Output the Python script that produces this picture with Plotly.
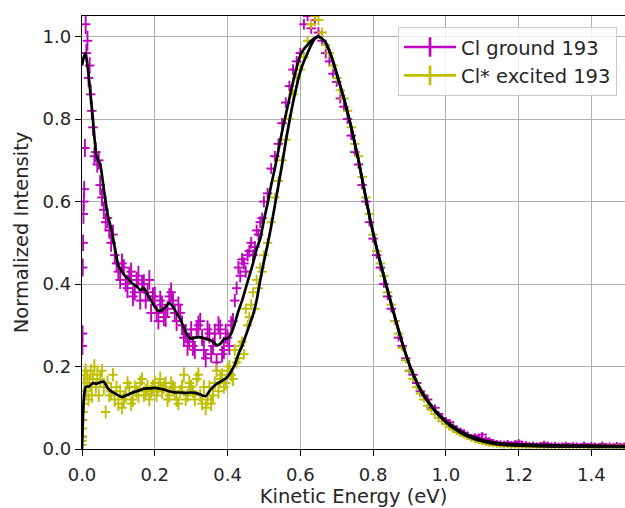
import plotly.graph_objects as go

# ---------------- data ----------------
energy = [0.0, 0.0005, 0.001, 0.0015, 0.002, 0.003, 0.004, 0.005, 0.006, 0.008,
          0.010, 0.012, 0.015, 0.018, 0.021, 0.024, 0.027, 0.030, 0.034, 0.038,
          0.042, 0.046, 0.050, 0.055, 0.060, 0.065, 0.070, 0.075, 0.080, 0.085,
          0.090, 0.095,
          0.10, 0.11, 0.12, 0.13, 0.14, 0.15, 0.16, 0.17, 0.18, 0.19,
          0.20, 0.21, 0.22, 0.23, 0.24, 0.25, 0.26, 0.27, 0.28, 0.29,
          0.30, 0.31, 0.32, 0.33, 0.34, 0.35, 0.36, 0.37, 0.38, 0.39,
          0.40, 0.41, 0.42, 0.43, 0.44, 0.45, 0.46, 0.47, 0.48, 0.49,
          0.50, 0.51, 0.52, 0.53, 0.54, 0.55, 0.56, 0.57, 0.58, 0.59,
          0.60, 0.61, 0.62, 0.63, 0.64, 0.65, 0.66, 0.67, 0.68, 0.69,
          0.70, 0.71, 0.72, 0.73, 0.74, 0.75, 0.76, 0.77, 0.78, 0.79,
          0.80, 0.81, 0.82, 0.83, 0.84, 0.85, 0.86, 0.87, 0.88, 0.89,
          0.90, 0.91, 0.92, 0.93, 0.94, 0.95, 0.96, 0.97, 0.98, 0.99,
          1.00, 1.01, 1.02, 1.03, 1.04, 1.05, 1.06, 1.07, 1.08, 1.09,
          1.10, 1.11, 1.12, 1.13, 1.14, 1.15, 1.16, 1.17, 1.18, 1.19,
          1.20, 1.21, 1.22, 1.23, 1.24, 1.25, 1.26, 1.27, 1.28, 1.29,
          1.30, 1.31, 1.32, 1.33, 1.34, 1.35, 1.36, 1.37, 1.38, 1.39,
          1.40, 1.41, 1.42, 1.43, 1.44, 1.45, 1.46, 1.47, 1.48, 1.49,
          1.50,
          0.105, 0.115, 0.125, 0.135, 0.145, 0.155, 0.165, 0.175, 0.185, 0.195,
          0.205, 0.215, 0.225, 0.235, 0.245, 0.255, 0.265, 0.275, 0.285, 0.295,
          0.305, 0.315, 0.325, 0.335, 0.345, 0.355, 0.365, 0.375, 0.385, 0.395,
          0.405, 0.415, 0.425, 0.435, 0.445, 0.455, 0.465, 0.475, 0.485, 0.495]

ground = [0.03, 0.07, 0.25, 0.28, 0.44, 0.50, 0.57, 0.60, 0.63, 0.73,
          1.03, 0.96, 0.99, 0.90, 0.93, 0.86, 0.82, 0.78, 0.71, 0.72,
          0.69, 0.70, 0.64, 0.61, 0.58, 0.55, 0.56, 0.53, 0.50, 0.52,
          0.47, 0.45,
          0.43, 0.45, 0.40, 0.42, 0.37, 0.41, 0.36, 0.40, 0.38, 0.33,
          0.37, 0.31, 0.35, 0.32, 0.37, 0.36, 0.31, 0.33, 0.27, 0.25,
          0.29, 0.24, 0.30, 0.27, 0.22, 0.28, 0.25, 0.21, 0.29, 0.24,
          0.27, 0.30, 0.36, 0.44, 0.46, 0.43, 0.48, 0.47, 0.53, 0.55,
          0.60, 0.62, 0.68, 0.71, 0.74, 0.79, 0.84, 0.88, 0.92, 0.94,
          0.96, 1.03, 1.05, 1.02, 1.04, 1.01, 0.99, 0.96, 0.94, 0.91,
          0.89, 0.85, 0.83, 0.80, 0.76, 0.72, 0.69, 0.64, 0.60, 0.55,
          0.51, 0.47, 0.44, 0.40, 0.37, 0.34, 0.31, 0.27, 0.25, 0.22,
          0.19, 0.18, 0.16, 0.14, 0.13, 0.12, 0.10, 0.10, 0.085, 0.075,
          0.070, 0.065, 0.055, 0.048, 0.045, 0.040, 0.034, 0.030, 0.032, 0.028,
          0.035, 0.025, 0.022, 0.018, 0.016, 0.015, 0.014, 0.016, 0.013, 0.015,
          0.018, 0.012, 0.013, 0.011, 0.012, 0.010, 0.011, 0.014, 0.012, 0.010,
          0.011, 0.009, 0.010, 0.012, 0.009, 0.011, 0.010, 0.008, 0.012, 0.009,
          0.011, 0.010, 0.008, 0.012, 0.009, 0.010, 0.008, 0.011, 0.009, 0.010,
          0.009,
          0.41, 0.44, 0.39, 0.43, 0.38, 0.42, 0.40, 0.36, 0.41, 0.37,
          0.33, 0.36, 0.32, 0.34, 0.38, 0.33, 0.35, 0.30, 0.28, 0.26,
          0.25, 0.29, 0.31, 0.24, 0.29, 0.23, 0.28, 0.30, 0.23, 0.28,
          0.25, 0.31, 0.39, 0.42, 0.45, 0.47, 0.50, 0.49, 0.52, 0.56]

ground_err = [0.020, 0.020, 0.022, 0.020, 0.022, 0.020, 0.024, 0.022, 0.020, 0.022,
              0.024, 0.022, 0.024, 0.022, 0.020, 0.024, 0.022, 0.020, 0.022, 0.024,
              0.020, 0.022, 0.024, 0.022, 0.020, 0.022, 0.024, 0.020, 0.022, 0.024,
              0.022, 0.020,
              0.022, 0.024, 0.020, 0.022, 0.024, 0.020, 0.022, 0.024, 0.020, 0.022,
              0.024, 0.020, 0.022, 0.024, 0.020, 0.022, 0.024, 0.020, 0.022, 0.024,
              0.020, 0.022, 0.024, 0.020, 0.022, 0.024, 0.020, 0.022, 0.024, 0.022,
              0.020, 0.022, 0.016, 0.016, 0.015, 0.015, 0.015, 0.014, 0.014, 0.014,
              0.014, 0.013, 0.013, 0.013, 0.013, 0.013, 0.013, 0.013, 0.013, 0.013,
              0.013, 0.013, 0.013, 0.013, 0.013, 0.013, 0.013, 0.013, 0.012, 0.012,
              0.012, 0.012, 0.012, 0.012, 0.011, 0.010, 0.010, 0.010, 0.010, 0.010,
              0.010, 0.009, 0.009, 0.009, 0.009, 0.009, 0.009, 0.009, 0.009, 0.008,
              0.008, 0.008, 0.008, 0.008, 0.008, 0.008, 0.008, 0.008, 0.007, 0.007,
              0.007, 0.007, 0.007, 0.007, 0.007, 0.007, 0.006, 0.006, 0.006, 0.006,
              0.006, 0.006, 0.006, 0.006, 0.006, 0.006, 0.006, 0.006, 0.006, 0.006,
              0.006, 0.006, 0.006, 0.006, 0.006, 0.006, 0.006, 0.006, 0.006, 0.006,
              0.006, 0.006, 0.006, 0.006, 0.006, 0.006, 0.006, 0.006, 0.006, 0.006,
              0.006, 0.006, 0.006, 0.006, 0.006, 0.006, 0.006, 0.006, 0.006, 0.006,
              0.006,
              0.022, 0.020, 0.024, 0.022, 0.020, 0.024, 0.022, 0.020, 0.024, 0.022,
              0.020, 0.024, 0.022, 0.020, 0.024, 0.022, 0.020, 0.024, 0.022, 0.020,
              0.024, 0.022, 0.020, 0.024, 0.022, 0.020, 0.024, 0.022, 0.020, 0.024,
              0.022, 0.020, 0.016, 0.016, 0.015, 0.015, 0.014, 0.014, 0.014, 0.013]

excited = [0.01, 0.02, 0.03, 0.05, 0.07, 0.09, 0.11, 0.13, 0.16, 0.18,
           0.19, 0.14, 0.17, 0.12, 0.16, 0.19, 0.13, 0.17, 0.20, 0.15,
           0.18, 0.13, 0.17, 0.19, 0.15, 0.09, 0.16, 0.13, 0.14, 0.18,
           0.12, 0.15,
           0.11, 0.10, 0.13, 0.15, 0.12, 0.14, 0.16, 0.13, 0.15, 0.14,
           0.16, 0.15, 0.14, 0.16, 0.13, 0.15, 0.12, 0.14, 0.18, 0.13,
           0.15, 0.12, 0.18, 0.11, 0.10, 0.15, 0.13, 0.19, 0.17, 0.15,
           0.19, 0.18, 0.24, 0.22, 0.26, 0.34, 0.32, 0.38, 0.41, 0.44,
           0.47, 0.50, 0.55, 0.61, 0.65, 0.70, 0.75, 0.80, 0.86, 0.90,
           0.92, 0.95, 0.99, 1.03, 1.05, 1.04, 1.01, 0.98, 0.96, 0.93,
           0.90, 0.87, 0.85, 0.82, 0.78, 0.74, 0.71, 0.66, 0.61, 0.57,
           0.52, 0.48, 0.45, 0.42, 0.38, 0.35, 0.31, 0.28, 0.245, 0.215,
           0.19, 0.17, 0.15, 0.135, 0.12, 0.105, 0.095, 0.085, 0.075, 0.067,
           0.060, 0.053, 0.047, 0.041, 0.036, 0.032, 0.028, 0.024, 0.021, 0.018,
           0.015, 0.013, 0.011, 0.010, 0.009, 0.008, 0.007, 0.008, 0.006, 0.007,
           0.006, 0.007, 0.006, 0.006, 0.007, 0.006, 0.005, 0.006, 0.006, 0.005,
           0.006, 0.005, 0.006, 0.005, 0.006, 0.005, 0.005, 0.006, 0.005, 0.005,
           0.006, 0.005, 0.005, 0.006, 0.005, 0.005, 0.005, 0.006, 0.005, 0.005,
           0.005,
           0.14, 0.12, 0.16, 0.11, 0.15, 0.13, 0.17, 0.14, 0.12, 0.15,
           0.13, 0.17, 0.15, 0.12, 0.16, 0.14, 0.11, 0.15, 0.12, 0.16,
           0.14, 0.17, 0.13, 0.15, 0.12, 0.11, 0.16, 0.14, 0.18, 0.16,
           0.20, 0.17, 0.21, 0.25, 0.23, 0.30, 0.35, 0.34, 0.39, 0.43]

excited_err = [0.010, 0.010, 0.012, 0.012, 0.014, 0.014, 0.016, 0.016, 0.018, 0.018,
               0.018, 0.016, 0.018, 0.016, 0.018, 0.016, 0.018, 0.016, 0.018, 0.016,
               0.018, 0.016, 0.018, 0.016, 0.018, 0.016, 0.018, 0.016, 0.018, 0.016,
               0.018, 0.016,
               0.018, 0.016, 0.018, 0.016, 0.018, 0.016, 0.018, 0.016, 0.018, 0.016,
               0.018, 0.016, 0.018, 0.016, 0.018, 0.016, 0.018, 0.016, 0.018, 0.016,
               0.018, 0.016, 0.018, 0.016, 0.018, 0.016, 0.018, 0.016, 0.018, 0.016,
               0.018, 0.016, 0.014, 0.014, 0.013, 0.013, 0.013, 0.012, 0.012, 0.012,
               0.012, 0.012, 0.012, 0.012, 0.012, 0.012, 0.012, 0.012, 0.012, 0.012,
               0.012, 0.012, 0.012, 0.012, 0.012, 0.012, 0.012, 0.012, 0.011, 0.011,
               0.011, 0.011, 0.011, 0.011, 0.010, 0.010, 0.010, 0.010, 0.010, 0.009,
               0.009, 0.009, 0.009, 0.009, 0.009, 0.009, 0.009, 0.008, 0.008, 0.008,
               0.008, 0.008, 0.008, 0.008, 0.008, 0.007, 0.007, 0.007, 0.007, 0.007,
               0.007, 0.007, 0.007, 0.007, 0.006, 0.006, 0.006, 0.006, 0.006, 0.006,
               0.006, 0.006, 0.006, 0.006, 0.006, 0.006, 0.006, 0.006, 0.006, 0.006,
               0.006, 0.006, 0.006, 0.006, 0.006, 0.006, 0.006, 0.006, 0.006, 0.006,
               0.006, 0.006, 0.006, 0.006, 0.006, 0.006, 0.006, 0.006, 0.006, 0.006,
               0.006, 0.006, 0.006, 0.006, 0.006, 0.006, 0.006, 0.006, 0.006, 0.006,
               0.006,
               0.016, 0.018, 0.016, 0.018, 0.016, 0.018, 0.016, 0.018, 0.016, 0.018,
               0.016, 0.018, 0.016, 0.018, 0.016, 0.018, 0.016, 0.018, 0.016, 0.018,
               0.016, 0.018, 0.016, 0.018, 0.016, 0.018, 0.016, 0.018, 0.016, 0.018,
               0.016, 0.018, 0.014, 0.014, 0.013, 0.013, 0.013, 0.012, 0.012, 0.012]

energy_err = 0.013

smooth_energy = [0.0, 0.002, 0.005, 0.01, 0.02, 0.03, 0.04, 0.05, 0.06, 0.07, 0.08, 0.09,
                 0.10, 0.11, 0.12, 0.13, 0.14, 0.15, 0.16, 0.17, 0.18, 0.19,
                 0.20, 0.21, 0.22, 0.23, 0.24, 0.25, 0.26, 0.27, 0.28, 0.29,
                 0.30, 0.31, 0.32, 0.33, 0.34, 0.35, 0.36, 0.37, 0.38, 0.39,
                 0.40, 0.41, 0.42, 0.43, 0.44, 0.45, 0.46, 0.47, 0.48, 0.49,
                 0.50, 0.51, 0.52, 0.53, 0.54, 0.55, 0.56, 0.57, 0.58, 0.59,
                 0.60, 0.61, 0.62, 0.63, 0.64, 0.65, 0.66, 0.67, 0.68, 0.69,
                 0.70, 0.71, 0.72, 0.73, 0.74, 0.75, 0.76, 0.77, 0.78, 0.79,
                 0.80, 0.81, 0.82, 0.83, 0.84, 0.85, 0.86, 0.87, 0.88, 0.89,
                 0.90, 0.91, 0.92, 0.93, 0.94, 0.95, 0.96, 0.97, 0.98, 0.99,
                 1.00, 1.02, 1.04, 1.06, 1.08, 1.10, 1.12, 1.14, 1.16, 1.18,
                 1.20, 1.25, 1.30, 1.35, 1.40, 1.45, 1.50]

ground_smooth = [0.93, 0.94, 0.95, 0.96, 0.89, 0.80, 0.71, 0.69, 0.63, 0.57, 0.535, 0.49,
                 0.445, 0.43, 0.418, 0.41, 0.40, 0.395, 0.385, 0.39, 0.375, 0.36,
                 0.345, 0.335, 0.337, 0.345, 0.354, 0.345, 0.33, 0.315, 0.295, 0.275,
                 0.267, 0.27, 0.272, 0.27, 0.267, 0.265, 0.26, 0.252, 0.255, 0.266,
                 0.268, 0.28, 0.305, 0.335, 0.36, 0.39, 0.42, 0.45, 0.485, 0.51,
                 0.555, 0.595, 0.64, 0.68, 0.725, 0.77, 0.81, 0.85, 0.89, 0.925,
                 0.955, 0.97, 0.98, 0.99, 0.997, 1.0, 0.995, 0.985, 0.965, 0.94,
                 0.91, 0.88, 0.85, 0.815, 0.78, 0.74, 0.70, 0.655, 0.61, 0.565,
                 0.525, 0.487, 0.452, 0.418, 0.385, 0.352, 0.32, 0.288, 0.258, 0.23,
                 0.205, 0.183, 0.163, 0.146, 0.131, 0.118, 0.106, 0.095, 0.085, 0.076,
                 0.068, 0.055, 0.043, 0.034, 0.028, 0.022, 0.018, 0.015, 0.013, 0.012,
                 0.011, 0.010, 0.009, 0.008, 0.008, 0.007, 0.007]

excited_smooth = [0.0, 0.06, 0.12, 0.15, 0.152, 0.16, 0.158, 0.162, 0.163, 0.148, 0.14, 0.135,
                  0.13, 0.126, 0.13, 0.133, 0.137, 0.14, 0.143, 0.146, 0.147, 0.147,
                  0.148, 0.147, 0.145, 0.143, 0.14, 0.138, 0.137, 0.137, 0.136, 0.136,
                  0.137, 0.136, 0.134, 0.13, 0.128, 0.14, 0.15, 0.158, 0.163, 0.168,
                  0.175, 0.188, 0.205, 0.23, 0.25, 0.275, 0.30, 0.325, 0.36, 0.41,
                  0.455, 0.495, 0.54, 0.59, 0.64, 0.69, 0.745, 0.795, 0.84, 0.88,
                  0.915, 0.94, 0.96, 0.98, 0.995, 1.0, 0.995, 0.985, 0.965, 0.94,
                  0.91, 0.88, 0.85, 0.815, 0.78, 0.74, 0.70, 0.655, 0.61, 0.565,
                  0.525, 0.487, 0.452, 0.418, 0.385, 0.352, 0.32, 0.288, 0.258, 0.23,
                  0.204, 0.181, 0.161, 0.143, 0.128, 0.115, 0.103, 0.092, 0.082, 0.073,
                  0.065, 0.051, 0.040, 0.031, 0.024, 0.019, 0.015, 0.012, 0.010, 0.009,
                  0.008, 0.007, 0.006, 0.006, 0.005, 0.005, 0.005]

series_names = ["Cl ground 193", "Cl* excited 193"]
series_colors = ["#bf00bf", "#bfbf00"]

x_ticks = [0.0, 0.2, 0.4, 0.6, 0.8, 1.0, 1.2, 1.4]
x_tick_labels = ["0.0", "0.2", "0.4", "0.6", "0.8", "1.0", "1.2", "1.4"]
y_ticks = [0.0, 0.2, 0.4, 0.6, 0.8, 1.0]
y_tick_labels = ["0.0", "0.2", "0.4", "0.6", "0.8", "1.0"]

# ---------------- figure ----------------
fig = go.Figure()

for vals, errs, name, col in [(ground, ground_err, series_names[0], series_colors[0]),
                              (excited, excited_err, series_names[1], series_colors[1])]:
    fig.add_trace(go.Scatter(
        x=energy, y=vals, mode="markers", showlegend=False,
        marker=dict(size=2, color=col),
        error_y=dict(type="data", array=errs, color=col, thickness=1.9, width=0),
        error_x=dict(type="constant", value=energy_err, color=col, thickness=1.9, width=0),
        hoverinfo="skip",
    ))

for sm in [ground_smooth, excited_smooth]:
    fig.add_trace(go.Scatter(
        x=smooth_energy, y=sm, mode="lines", showlegend=False,
        line=dict(color="black", width=2.7, shape="spline", smoothing=0.6),
    ))

for name, col in zip(series_names, series_colors):
    fig.add_trace(go.Scatter(
        x=[None], y=[None], mode="lines+markers", name=name,
        line=dict(color=col, width=2.7),
        marker=dict(symbol="line-ns-open", size=14, color=col, line=dict(color=col, width=2.7)),
    ))

axis_common = dict(
    showgrid=True, gridcolor="#b0b0b0", gridwidth=1.4,
    showline=True, linecolor="black", linewidth=1.4,
    ticks="outside", ticklen=6, tickwidth=1.4, tickcolor="black",
    zeroline=False,
    tickfont=dict(size=18, color="#262626"),
)

fig.update_layout(
    width=625, height=508,
    margin=dict(l=82, r=0, t=16, b=59),
    plot_bgcolor="white", paper_bgcolor="white",
    font=dict(family="DejaVu Sans", size=18, color="#262626"),
    xaxis=dict(range=[0, 1.4925], tickvals=x_ticks, ticktext=x_tick_labels,
               mirror=True, ticklabelstandoff=3,
               title=dict(text="Kinetic Energy (eV)", standoff=7, font=dict(size=19.5)),
               **axis_common),
    yaxis=dict(range=[0, 1.05], tickvals=y_ticks, ticktext=y_tick_labels,
               title=dict(text="Normalized Intensity", standoff=8, font=dict(size=19.5)),
               **axis_common),
    legend=dict(x=0.582, y=0.975, xanchor="left", yanchor="top",
                bgcolor="rgba(255,255,255,0.8)", bordercolor="#cccccc", borderwidth=1,
                font=dict(size=19.5, color="#262626"), itemwidth=52,
                tracegroupgap=0),
)

fig.write_html("out.html")
